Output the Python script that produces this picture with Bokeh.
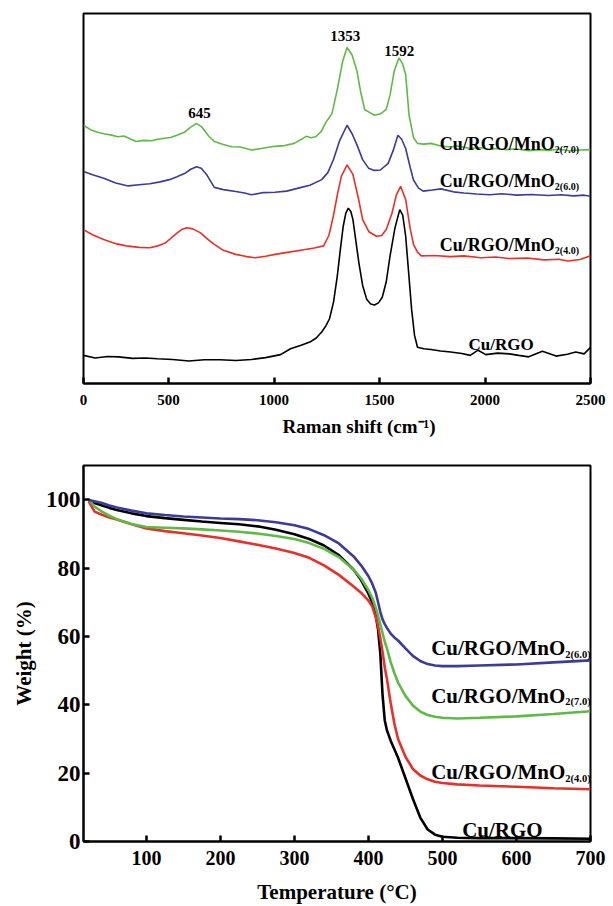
from bokeh.plotting import figure
from bokeh.layouts import column
from bokeh.models import ColumnDataSource, FixedTicker, Title, Range1d
from bokeh.core.properties import value
from bokeh.embed import file_html
from bokeh.resources import INLINE

FONT = "Liberation Serif"

# ---------------- Raman data (intensity in arbitrary units, 0-100) ----------------
raman_green_x = [97, 130, 160, 193, 225, 260, 289, 320, 346, 380, 420, 448, 480, 510, 540, 578, 605, 633, 660, 690,
                 717, 760, 800, 840, 893, 940, 980, 1004, 1050, 1096, 1130, 1152, 1175, 1198, 1225, 1245, 1275, 1300,
                 1325, 1346, 1370, 1393, 1410, 1430, 1455, 1476, 1505, 1532, 1550, 1570, 1592, 1608, 1624, 1640, 1661,
                 1680, 1710, 1744, 1790, 1837, 1870, 1930, 1980, 2022, 2060, 2100, 2150, 2207, 2260, 2300, 2350, 2400,
                 2450, 2500]
raman_green_y = [69.8, 68.6, 68.0, 67.5, 67.2, 66.7, 66.9, 66.1, 65.4, 65.7, 65.6, 66.0, 66.3, 66.5, 67.1, 68.0, 69.3,
                 70.3, 69.2, 66.9, 65.4, 64.6, 64.0, 63.9, 63.1, 63.5, 63.9, 64.1, 64.3, 64.9, 66.0, 66.8, 66.4, 66.7,
                 68.2, 70.5, 73.0, 79.5, 87.0, 90.8, 88.8, 84.5, 79.0, 74.0, 73.2, 72.5, 72.9, 74.1, 78.0, 84.5, 88.0,
                 86.6, 83.5, 72.5, 66.5, 64.9, 64.7, 64.9, 64.2, 63.9, 64.2, 63.5, 63.7, 63.3, 63.5, 63.2, 63.4, 62.9,
                 63.2, 63.0, 63.3, 62.9, 63.1, 63.2]

raman_blue_x = [97, 140, 193, 250, 309, 360, 411, 460, 504, 540, 578, 605, 633, 655, 680, 717, 760, 819, 860, 893,
                950, 1004, 1060, 1115, 1170, 1226, 1255, 1281, 1310, 1346, 1370, 1393, 1420, 1448, 1475, 1504, 1541,
                1565, 1587, 1605, 1624, 1645, 1661, 1685, 1707, 1750, 1791, 1850, 1900, 1960, 2022, 2080, 2150, 2220,
                2300, 2360, 2420, 2470, 2500]
raman_blue_y = [57.3, 56.4, 55.5, 54.2, 53.4, 53.7, 54.0, 54.5, 55.1, 55.9, 56.8, 57.9, 58.6, 58.2, 56.5, 53.0, 52.4,
                51.9, 51.5, 51.0, 51.6, 51.7, 52.0, 52.8, 53.6, 55.1, 57.0, 60.4, 65.5, 69.8, 67.5, 64.5, 60.5, 58.2,
                57.6, 57.7, 59.5, 63.0, 67.1, 66.0, 63.5, 58.5, 55.0, 52.8, 52.0, 52.3, 52.6, 51.8, 51.5, 51.2, 51.0,
                51.3, 50.9, 51.1, 50.8, 51.0, 50.7, 50.9, 50.6]

raman_red_x = [97, 140, 193, 250, 300, 360, 411, 450, 485, 515, 541, 565, 587, 615, 652, 685, 717, 760, 819, 870,
               911, 960, 1004, 1070, 1133, 1190, 1235, 1260, 1281, 1300, 1319, 1346, 1374, 1400, 1420, 1450, 1485,
               1510, 1532, 1559, 1580, 1600, 1624, 1645, 1661, 1680, 1698, 1760, 1837, 1900, 1980, 2050, 2115, 2200,
               2280, 2350, 2393, 2450, 2500]
raman_red_y = [41.6, 40.2, 38.9, 37.8, 37.2, 36.8, 36.7, 37.2, 38.0, 39.4, 40.7, 41.7, 42.1, 41.8, 40.7, 39.0, 37.6,
               36.0, 34.9, 34.3, 34.0, 34.4, 34.9, 35.5, 36.1, 36.6, 37.2, 40.0, 45.2, 51.0, 56.0, 59.1, 56.5, 50.0,
               44.3, 41.0, 39.8, 40.0, 41.6, 46.0, 51.0, 53.3, 49.7, 42.0, 37.6, 35.5, 34.5, 34.6, 34.3, 34.5, 34.0,
               34.2, 33.8, 33.9, 33.4, 33.6, 33.1, 33.5, 34.5]

raman_black_x = [97, 152, 210, 263, 330, 390, 448, 520, 596, 670, 744, 820, 893, 960, 1031, 1078, 1125, 1170, 1200,
                 1226, 1245, 1263, 1282, 1300, 1315, 1328, 1340, 1352, 1364, 1374, 1388, 1402, 1420, 1439, 1458, 1476,
                 1495, 1513, 1532, 1550, 1573, 1596, 1610, 1624, 1638, 1652, 1666, 1680, 1710, 1744, 1790, 1837, 1890,
                 1930, 1967, 2004, 2060, 2115, 2160, 2207, 2272, 2337, 2390, 2430, 2470, 2500]
raman_black_y = [7.6, 6.9, 7.3, 7.2, 6.8, 6.9, 6.7, 6.5, 6.1, 6.4, 6.4, 6.2, 6.5, 7.0, 7.8, 9.4, 10.3, 11.2, 12.3,
                 13.9, 15.5, 17.5, 22.0, 29.1, 36.5, 42.5, 46.0, 47.4, 46.5, 44.3, 38.5, 32.7, 26.5, 22.8, 21.5, 21.2,
                 21.8, 23.3, 27.5, 34.5, 42.0, 47.0, 45.5, 39.8, 30.0, 20.1, 13.0, 9.8, 9.4, 9.2, 8.8, 8.5, 8.1, 7.6,
                 9.0, 7.8, 8.2, 8.0, 7.6, 7.2, 8.7, 7.4, 7.9, 8.5, 8.0, 9.8]

raman_x_start = 97
raman_ticks = [raman_x_start, 500, 1000, 1500, 2000, 2500]
raman_peak_labels = ["645", "1353", "1592"]
raman_peak_x = [647, 1338, 1593]
raman_peak_y = [73.0, 93.8, 89.8]

raman_names = ["Cu/RGO/MnO2(7.0)", "Cu/RGO/MnO2(6.0)", "Cu/RGO/MnO2(4.0)"]
raman_name_x = [2331, 2331, 2331]
raman_name_y = [64.8, 54.8, 37.5]
raman_base_name = "Cu/RGO"
raman_base_xy = (2076, 10.6)
raman_axis_title = "Raman shift (cm\u207b\u00b9)"

# ---------------- TGA data ----------------
tga_temp = [22, 30, 40, 50, 60, 80, 100, 125, 150, 175, 200, 225, 250, 275, 300, 320, 340, 360, 380, 390,
            400, 405, 410, 413, 416, 419, 422, 425, 430, 435, 440, 450, 460, 470, 480, 490, 500, 520, 550, 600,
            650, 700]
tga_mno2_60 = [100.0, 99.5, 99.0, 98.3, 97.7, 96.8, 96.0, 95.5, 95.1, 94.8, 94.5, 94.3, 94.0, 93.4, 92.5, 91.4,
               89.6, 87.2, 83.4, 80.8, 77.6, 75.5, 72.7, 70.0, 67.2, 65.0, 63.6, 62.5, 60.8, 59.7, 58.8, 56.5,
               54.3, 52.8, 51.9, 51.5, 51.3, 51.3, 51.5, 51.8, 52.4, 53.0]
tga_cu_rgo = [99.8, 99.0, 98.3, 97.6, 97.0, 96.0, 95.2, 94.6, 94.1, 93.6, 93.2, 92.8, 92.2, 91.2, 89.9, 88.5,
              86.6, 83.8, 79.5, 76.5, 72.5, 70.0, 66.0, 62.0, 55.0, 43.0, 35.5, 32.5, 29.5, 27.0, 24.5, 18.5,
              12.5, 7.0, 3.5, 2.0, 1.4, 1.1, 1.0, 1.0, 0.9, 0.8]
tga_mno2_40 = [99.5, 96.5, 95.6, 94.8, 94.2, 92.8, 91.6, 90.8, 90.2, 89.5, 88.8, 87.8, 86.8, 85.7, 84.4, 83.0,
               80.8, 78.0, 74.6, 72.8, 70.5, 68.8, 65.5, 63.0, 59.5, 55.5, 51.0, 47.5, 40.5, 34.5, 30.0, 24.8,
               21.2, 19.3, 18.2, 17.5, 17.1, 16.7, 16.4, 16.0, 15.6, 15.3]
tga_mno2_70 = [100.0, 98.0, 96.5, 95.3, 94.3, 92.9, 92.0, 91.8, 91.6, 91.3, 91.0, 90.6, 90.1, 89.4, 88.5, 87.3,
               85.6, 83.2, 79.5, 77.0, 73.5, 71.3, 68.3, 66.0, 63.5, 61.0, 58.5, 56.5, 52.5, 49.3, 46.5, 42.6,
               39.8, 38.0, 37.0, 36.5, 36.2, 36.0, 36.2, 36.6, 37.3, 38.1]

tga_xticks = [100, 200, 300, 400, 500, 600, 700]
tga_yticks = [0, 20, 40, 60, 80, 100]
tga_names = ["Cu/RGO/MnO2(6.0)", "Cu/RGO/MnO2(7.0)", "Cu/RGO/MnO2(4.0)"]
tga_name_x = [666, 666, 666]
tga_name_y = [56.6, 42.6, 20.2]
tga_base_name = "Cu/RGO"
tga_base_xy = (581, 3.3)

GREEN = "#5fb947"
BLUE = "#3b3b98"
RED = "#e8302b"
BLACK = "#000000"


def split_name(n):
    i = n.index("MnO") + 3
    return n[:i], n[i:]


def style_axis(ax, size):
    ax.axis_line_width = 2
    ax.axis_line_color = "black"
    ax.major_tick_in = 6
    ax.major_tick_out = 0
    ax.major_tick_line_width = 2.5
    ax.minor_tick_in = 0
    ax.minor_tick_out = 0
    ax.major_label_text_font = FONT
    ax.major_label_text_font_style = "bold"
    ax.major_label_text_font_size = size
    ax.major_label_text_color = "black"
    ax.axis_label_text_font = FONT
    ax.axis_label_text_font_style = "bold"
    ax.axis_label_text_font_size = "21px"
    ax.axis_label_text_color = "black"


def add_names(p, names, xs, ys, main_size, sub_size, sub_off):
    mains = [split_name(n)[0] for n in names]
    subs = [split_name(n)[1] for n in names]
    src = ColumnDataSource(dict(x=xs, y=ys, main=mains, sub=subs))
    p.text(x="x", y="y", text="main", source=src, text_font=value(FONT), text_font_style="bold",
           text_font_size=value(main_size), text_align="right", text_baseline="alphabetic", text_color="black")
    p.text(x="x", y="y", text="sub", source=src, text_font=value(FONT), text_font_style="bold",
           text_font_size=value(sub_size), text_align="left", text_baseline="alphabetic", text_color="black",
           y_offset=sub_off)


def style_fig(p):
    p.xgrid.visible = False
    p.ygrid.visible = False
    p.outline_line_color = "black"
    p.outline_line_width = 2
    p.outline_line_alpha = 1
    p.background_fill_color = "white"
    p.border_fill_color = "white"


# ---------------- Top: Raman ----------------
p1 = figure(width=613, height=458, output_backend="svg", toolbar_location=None,
            x_range=Range1d(raman_x_start, 2500), y_range=Range1d(0, 100), y_axis_location=None,
            min_border_left=82, min_border_right=23, min_border_top=13, min_border_bottom=75)
style_fig(p1)

for xs, ys, c in [(raman_green_x, raman_green_y, GREEN), (raman_blue_x, raman_blue_y, BLUE),
                  (raman_red_x, raman_red_y, RED), (raman_black_x, raman_black_y, BLACK)]:
    p1.line(xs, ys, line_color=c, line_width=1.6)

ax1 = p1.xaxis[0]
ax1.ticker = FixedTicker(ticks=raman_ticks)
ax1.major_label_overrides = {raman_x_start: "0"}
style_axis(ax1, "15px")
ax1.major_label_standoff = 11

p1.text(x=raman_peak_x, y=raman_peak_y, text=raman_peak_labels, text_font=value(FONT), text_font_style="bold",
        text_font_size=value("15px"), text_align="center", text_baseline="alphabetic", text_color="black")
add_names(p1, raman_names, raman_name_x, raman_name_y, "18px", "10px", 6)
p1.text(x=[raman_base_xy[0]], y=[raman_base_xy[1]], text=[raman_base_name], text_font=value(FONT),
        text_font_style="bold", text_font_size=value("17px"), text_align="center", text_baseline="alphabetic",
        text_color="black")

t1 = Title(text=raman_axis_title, align="left", offset=199, text_font=FONT,
           text_font_style="bold", text_font_size="19px", text_color="black", standoff=16,
           vertical_align="top")
p1.add_layout(t1, "below")

# ---------------- Bottom: TGA ----------------
p2 = figure(width=613, height=448, output_backend="svg", toolbar_location=None,
            x_range=Range1d(15, 700), y_range=Range1d(0, 110),
            min_border_left=83, min_border_right=16, min_border_top=7, min_border_bottom=63)
style_fig(p2)

for ys, c in [(tga_cu_rgo, BLACK), (tga_mno2_40, RED), (tga_mno2_70, GREEN), (tga_mno2_60, BLUE)]:
    p2.line(tga_temp, ys, line_color=c, line_width=2.6)

ax2x = p2.xaxis[0]
ax2x.ticker = FixedTicker(ticks=tga_xticks)
style_axis(ax2x, "20px")
ax2x.major_label_standoff = 9
ax2x.axis_label = "Temperature (\u00b0C)"
ax2x.axis_label_standoff = 12

ax2y = p2.yaxis[0]
ax2y.ticker = FixedTicker(ticks=tga_yticks)
style_axis(ax2y, "23px")
ax2y.major_label_standoff = 3
ax2y.axis_label = "Weight (%)"
ax2y.axis_label_standoff = 7

add_names(p2, tga_names, tga_name_x, tga_name_y, "21px", "10.5px", 6)
p2.text(x=[tga_base_xy[0]], y=[tga_base_xy[1]], text=[tga_base_name], text_font=value(FONT),
        text_font_style="bold", text_font_size=value("21px"), text_align="center", text_baseline="alphabetic",
        text_color="black")

layout = column(p1, p2, spacing=0)
open("out.html", "w").write(file_html(layout, INLINE))
